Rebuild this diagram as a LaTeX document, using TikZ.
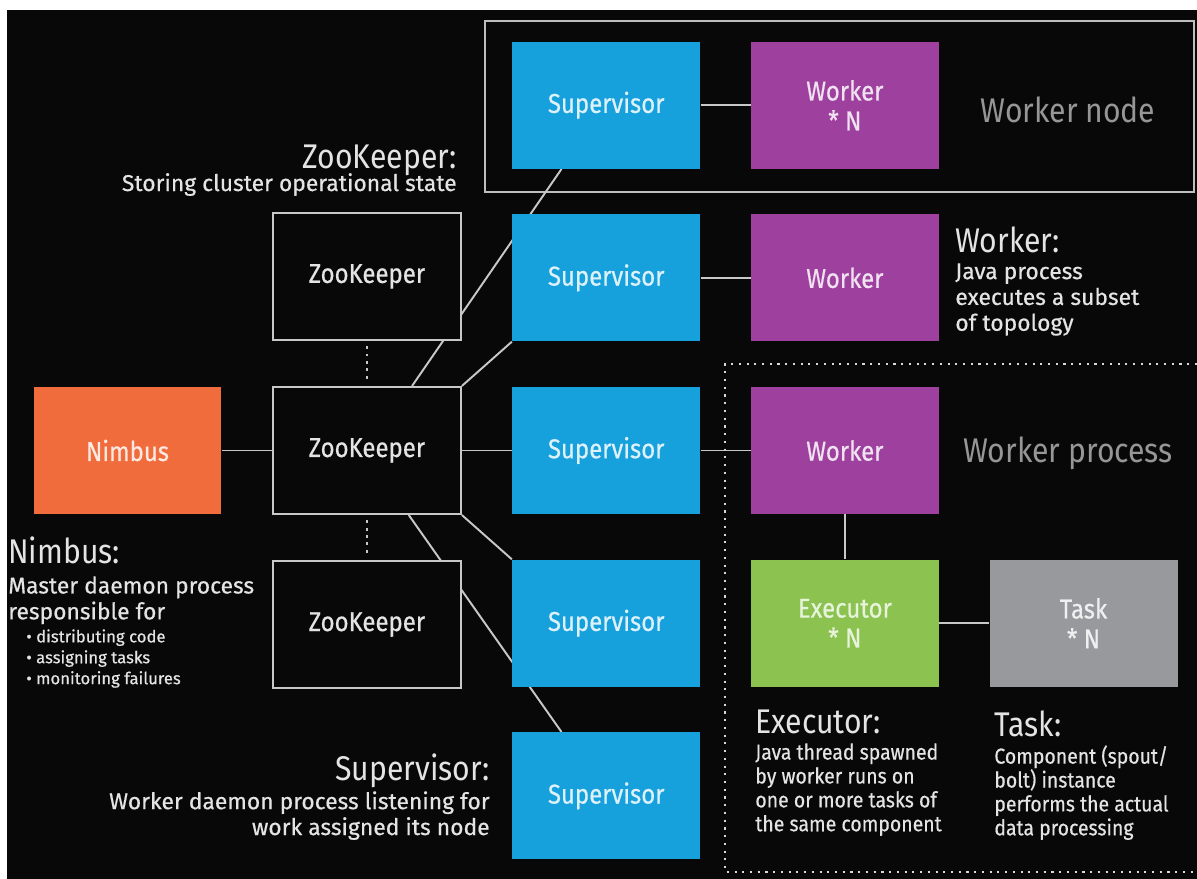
\documentclass[tikz,border=0pt]{standalone}
\usepackage{fontspec}
\setmainfont{Fira Sans}
\newfontfamily\narrowfont{Fira Sans}[FakeStretch=0.88]
\newfontfamily\labelfont{Fira Sans}[FakeStretch=0.88, FakeBold=0.5]
\newfontfamily\bodyfont{Fira Sans}[FakeBold=0.5]
\newfontfamily\slimfont{Fira Sans}[FakeStretch=0.9, FakeBold=0.5]
\usepackage{tikz}
\usetikzlibrary{positioning,backgrounds}

\definecolor{stormbg}{RGB}{8,8,8}
\definecolor{nimbusfill}{RGB}{240,108,60}
\definecolor{supfill}{RGB}{22,160,220}
\definecolor{workfill}{RGB}{158,64,158}
\definecolor{execfill}{RGB}{140,194,80}
\definecolor{taskfill}{RGB}{152,153,156}
\definecolor{wire}{RGB}{200,200,200}
\definecolor{inktext}{RGB}{228,228,228}
\definecolor{zonetext}{RGB}{150,150,150}

\begin{document}
\begin{tikzpicture}[x=0.02cm, y=-0.02cm, node distance=0.9cm and 1.0cm, every node/.style={text=inktext, inner sep=0pt}]
\tikzstyle{box}=[align=center, minimum width=3.76cm, minimum height=2.54cm, font=\labelfont\fontsize{15.5}{17}\selectfont]
\tikzstyle{nimbusbox}=[box, fill=nimbusfill, text=white!85!nimbusfill]
\tikzstyle{zkbox}=[box, draw=wire, line width=1.2pt, fill=stormbg]
\tikzstyle{supbox}=[box, fill=supfill, text=white!85!supfill]
\tikzstyle{workbox}=[box, fill=workfill, text=white!85!workfill]
\tikzstyle{execbox}=[box, fill=execfill, text=white!80!execfill]
\tikzstyle{taskbox}=[box, fill=taskfill, text=white!85!taskfill]
\tikzstyle{wireline}=[draw=wire, line width=1.1pt]
\tikzstyle{heading}=[font=\narrowfont\fontsize{19.5}{22}\selectfont]
\tikzstyle{desc}=[font=\bodyfont\fontsize{13}{14.7}\selectfont]
\tikzstyle{tightdesc}=[font=\slimfont\fontsize{12.3}{13.6}\selectfont, align=left]
\tikzstyle{smalldesc}=[font=\bodyfont\fontsize{9.5}{11.9}\selectfont, align=left]
\tikzstyle{zone}=[font=\narrowfont\fontsize{19.5}{22}\selectfont, text=zonetext]
\useasboundingbox (0,0) rectangle (1197,879);

% cluster
\node[nimbusbox] (nimbus) at (127.5,450.5) {Nimbus};
\node[zkbox, right=of nimbus] (zk2) {ZooKeeper};
\node[zkbox, above=of zk2] (zk1) {ZooKeeper};
\node[zkbox, below=of zk2] (zk3) {ZooKeeper};
\node[supbox, right=of zk2] (sup3) {Supervisor};
\node[supbox, above=of sup3] (sup2) {Supervisor};
\node[supbox, above=of sup2] (sup1) {Supervisor};
\node[supbox, below=of sup3] (sup4) {Supervisor};
\node[supbox, below=of sup4] (sup5) {Supervisor};
\node[workbox, right=of sup1] (work1) {Worker\\* N};
\node[workbox, right=of sup2] (work2) {Worker};
\node[workbox, right=of sup3] (work3) {Worker};
\node[execbox, below=of work3] (exec) {Executor\\* N};
\node[taskbox, right=of exec] (task) {Task\\* N};

\node[zone] (wnode) at (1068,110) {Worker node};
\node[zone] (wproc) at (1068,453) {Worker process};

% descriptions
\node[heading, anchor=base east] (zkhead) at (457,168) {ZooKeeper:};
\node[desc, anchor=base east] (zkdesc) at (457,191) {Storing cluster operational state};
\node[heading, anchor=base west] (nimbushead) at (8,563) {Nimbus:};
\node[desc, anchor=north west, align=left] (nimbusdesc) at (8,576) {Master daemon process\\responsible for};
\node[smalldesc, anchor=north west] (nimbuslist) at (26,629) {• distributing code\\• assigning tasks\\• monitoring failures};
\node[heading, anchor=base east] (suphead) at (490,780) {Supervisor:};
\node[desc, anchor=north east, align=right] (supdesc) at (490,791) {Worker daemon process listening for\\work assigned its node};
\node[heading, anchor=base west] (workhead) at (955,252) {Worker:};
\node[desc, anchor=north west, align=left] (workdesc) at (955,263) {Java process\\executes a subset\\of topology};
\node[heading, anchor=base west] (exechead) at (755,733) {Executor:};
\node[tightdesc, anchor=north west] (execdesc) at (755,743) {Java thread spawned\\by worker runs on\\one or more tasks of\\the same component};
\node[heading, anchor=base west] (taskhead) at (994,736) {Task:};
\node[tightdesc, anchor=north west] (taskdesc) at (994,745) {Component (spout/\\bolt) instance\\performs the actual\\data processing};

\begin{scope}[on background layer]
\fill[white] (0,0) rectangle (1197,879);
\fill[stormbg] (7,10) rectangle (1197,879);
\draw[draw=wire!95!black, line width=1.5pt] (485,21) rectangle (1194,192);
\draw[white!85!black, line width=1.4pt, dash pattern=on 1.2pt off 3.2pt] (1197,364) -- (725,364) -- (725,872) -- (1197,872);
\draw[wireline] (nimbus) -- (zk2);
\draw[wireline] (zk2) -- (sup3);
\draw[wireline] (zk2.north east) -- (sup2.south west);
\draw[wireline] (zk2.south east) -- (sup4.north west);
\draw[wireline] (zk2.55) -- (sup1.-125);
\draw[wireline] (zk2.-57) -- (sup5.125);
\draw[wireline] (sup1) -- (work1);
\draw[wireline] (sup2) -- (work2);
\draw[wireline] (sup3) -- (work3);
\draw[wireline] (work3) -- (exec);
\draw[wireline] (exec) -- (task);
\draw[wireline, dash pattern=on 1.6pt off 2.6pt, shorten <=3pt, shorten >=3pt] (zk1) -- (zk2);
\draw[wireline, dash pattern=on 1.6pt off 2.6pt, shorten <=3pt, shorten >=3pt] (zk2) -- (zk3);
\end{scope}
\end{tikzpicture}
\end{document}
